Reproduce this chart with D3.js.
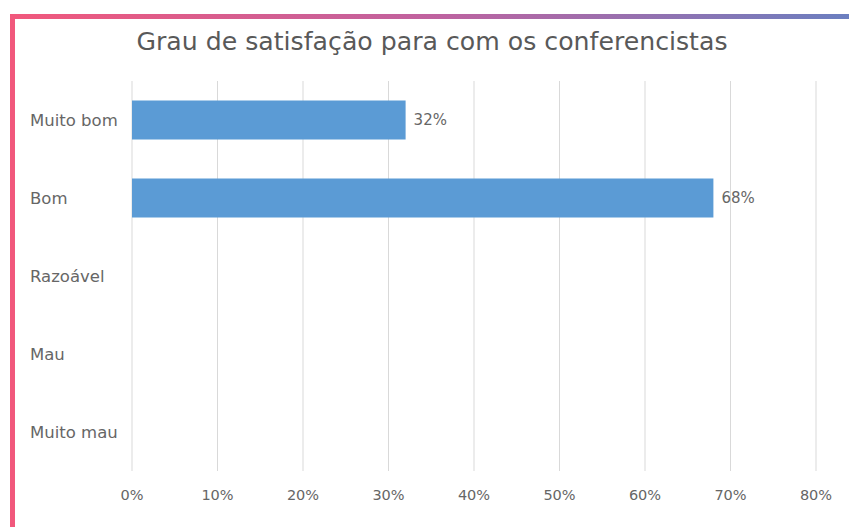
<!DOCTYPE html>
<html>
<head>
<meta charset="utf-8">
<script src="https://cdn.jsdelivr.net/npm/d3@7"></script>
<style>
  body { margin: 0; background: #fff; }
  svg { display: block; font-family: "DejaVu Sans", sans-serif; }
</style>
</head>
<body>
<script>
// data
var categories = ["Muito bom", "Bom", "Razoável", "Mau", "Muito mau"];
var values = [0.32, 0.68, null, null, null];
var ticks = [0, 0.1, 0.2, 0.3, 0.4, 0.5, 0.6, 0.7, 0.8];

var W = 849, H = 527;
var plot = { left: 132, right: 816, top: 81, bottom: 471 };

var svg = d3.select("body").append("svg")
  .attr("width", W)
  .attr("height", H);

// gradient frame
var defs = svg.append("defs");
var grad = defs.append("linearGradient").attr("id", "frameGrad")
  .attr("x1", "0%").attr("x2", "100%").attr("y1", "0%").attr("y2", "0%");
grad.append("stop").attr("offset", "0%").attr("stop-color", "#f1587c");
grad.append("stop").attr("offset", "50%").attr("stop-color", "#c0629f");
grad.append("stop").attr("offset", "100%").attr("stop-color", "#6b7fc0");

svg.append("rect").attr("x", 10).attr("y", 14).attr("width", W - 10).attr("height", 5)
  .attr("fill", "url(#frameGrad)");
svg.append("rect").attr("x", 10).attr("y", 14).attr("width", 5).attr("height", H - 14)
  .attr("fill", "#f1587c");

// scales
var x = d3.scaleLinear().domain([0, 0.8]).range([plot.left, plot.right]);
var y = d3.scaleBand().domain(categories).range([plot.top, plot.bottom])
  .paddingInner(0.5).paddingOuter(0.25);

// gridlines
svg.append("g").selectAll("line")
  .data(ticks)
  .enter().append("line")
  .attr("x1", function (d) { return x(d); })
  .attr("x2", function (d) { return x(d); })
  .attr("y1", plot.top)
  .attr("y2", plot.bottom)
  .attr("stroke", "#d9d9d9")
  .attr("stroke-width", 1);

// x tick labels
svg.append("g").selectAll("text")
  .data(ticks)
  .enter().append("text")
  .attr("x", function (d) { return x(d); })
  .attr("y", 500)
  .attr("text-anchor", "middle")
  .attr("font-size", 14.5)
  .attr("fill", "#666")
  .text(d3.format(".0%"));

// category labels
svg.append("g").selectAll("text")
  .data(categories)
  .enter().append("text")
  .attr("x", 30)
  .attr("y", function (d) { return y(d) + y.bandwidth() / 2; })
  .attr("dy", ".35em")
  .attr("font-size", 16.5)
  .attr("fill", "#666")
  .text(function (d) { return d; });

// bars
var barData = categories.map(function (c, i) { return { cat: c, v: values[i] }; })
  .filter(function (d) { return d.v != null; });

svg.append("g").selectAll("rect")
  .data(barData)
  .enter().append("rect")
  .attr("x", x(0))
  .attr("y", function (d) { return y(d.cat); })
  .attr("width", function (d) { return x(d.v) - x(0); })
  .attr("height", y.bandwidth())
  .attr("fill", "#5b9bd5");

// data labels
svg.append("g").selectAll("text")
  .data(barData)
  .enter().append("text")
  .attr("x", function (d) { return x(d.v) + 8; })
  .attr("y", function (d) { return y(d.cat) + y.bandwidth() / 2; })
  .attr("dy", ".35em")
  .attr("font-size", 15)
  .attr("fill", "#666")
  .text(function (d) { return d3.format(".0%")(d.v); });

// title
svg.append("text")
  .attr("x", 432)
  .attr("y", 50)
  .attr("text-anchor", "middle")
  .attr("font-size", 25.2)
  .attr("fill", "#595959")
  .text("Grau de satisfação para com os conferencistas");
</script>
</body>
</html>
